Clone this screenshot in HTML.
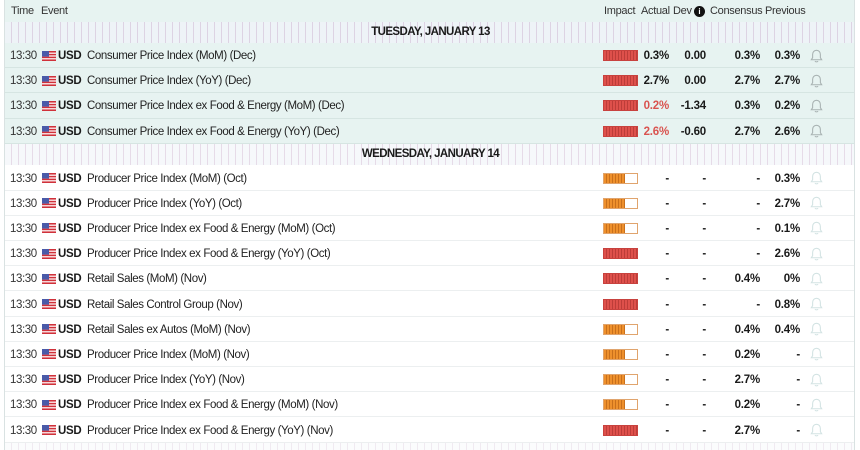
<!DOCTYPE html>
<html><head><meta charset="utf-8">
<style>
*{margin:0;padding:0;box-sizing:border-box}
body{width:860px;height:450px;background:#fff;overflow:hidden;font-family:"Liberation Sans",Arial,sans-serif;font-size:11.5px;color:#222;position:relative}
#c{position:absolute;left:4px;top:0;width:851px;height:450px;border-left:1px solid #d9e2e2;border-right:1px solid #d9e2e2;overflow:hidden}
.r{position:absolute;left:0;width:851px;height:25.2px;line-height:26px;border-bottom:1px solid #e3ebeb;letter-spacing:-0.4px}
.m{background:#e7f3f1;border-bottom-color:#d6e5e2}
.w{background:#fff;border-bottom-color:#eceff0}
.d{position:absolute;left:0;width:851px;background:repeating-linear-gradient(90deg,#eef3f7 0 6px,#ddd3e3 6px 7px);text-align:center;font-weight:bold;font-size:11.5px;letter-spacing:-0.6px;color:#1a1a1a}
.r span{position:absolute;top:0;white-space:nowrap}
.t{left:5px;color:#333}
.f{left:37px;top:7.5px!important;width:14px;height:10px}
.u{left:53px;font-weight:bold;color:#1a1a1a;letter-spacing:-0.3px}
.e{left:82px;color:#222}
.bar{left:598px;top:7px!important;width:35px;height:11px}
.red{background:repeating-linear-gradient(90deg,#de504b 0 2px,#bd3d39 2px 3px);border:1px solid #c8423e}
.org{background:#fff;border:1px solid #e0a46d}
.org i{position:absolute;left:0;top:0;width:21px;height:9px;background:repeating-linear-gradient(90deg,#ee902c 0 2px,#c9701c 2px 3px)}
.a,.v,.cs,.p{font-weight:bold;color:#1a1a1a;text-align:right;letter-spacing:-0.2px}
.a{right:187px}.v{right:150px}.cs{right:96px}.p{right:56px}
.neg{color:#d9534f!important}
.bl{left:805px;top:5.5px!important;width:13px;height:14px}
.h{position:absolute;left:0;top:0;width:851px;height:21.5px;line-height:22px;background:#e7f3f1;color:#333;font-size:11px;letter-spacing:-0.3px}
.h span{position:absolute;top:0;white-space:nowrap}
</style></head><body>
<svg width="0" height="0" style="position:absolute">
<defs>
<symbol id="flag" viewBox="0 0 14 10">
<rect width="14" height="10" fill="#fff"/>
<rect y="0" width="14" height="1.6" fill="#d0313a"/>
<rect y="2.8" width="14" height="1.6" fill="#d0313a"/>
<rect y="5.6" width="14" height="1.6" fill="#d0313a"/>
<rect y="8.4" width="14" height="1.6" fill="#d0313a"/>
<rect width="7" height="5.6" fill="#4a5aa8"/>
</symbol>
<symbol id="bell" viewBox="0 0 12 13">
<path d="M6 1.2c-2.2 0-3.6 1.7-3.6 3.9v3L1.2 10h9.6L9.6 8.1v-3C9.6 2.9 8.2 1.2 6 1.2z" fill="none" stroke="currentColor" stroke-width="1"/>
<path d="M4.6 11.2a1.5 1.2 0 0 0 2.8 0" fill="none" stroke="currentColor" stroke-width="1"/>
</symbol>
</defs></svg>
<div id="c">
<div class="h">
<span style="left:6px">Time</span><span style="left:36px">Event</span>
<span style="left:599px">Impact</span><span style="left:636px">Actual</span><span style="left:668px">Dev</span>
<span style="left:689px;top:6px;width:11px;height:11px;border-radius:50%;background:#111;color:#fff;font-size:8px;line-height:11px;text-align:center;font-weight:bold;letter-spacing:0">i</span>
<span style="left:705px">Consensus</span><span style="left:760px">Previous</span>
</div>
<div class="d" style="top:21.5px;height:21.5px;line-height:21.5px">TUESDAY, JANUARY 13</div>

<div class="r m" style="top:43px"><span class="t">13:30</span><svg class="f" style="position:absolute"><use href="#flag"/></svg><span class="u">USD</span><span class="e">Consumer Price Index (MoM) (Dec)</span><span class="bar red"></span><span class="a">0.3%</span><span class="v">0.00</span><span class="cs">0.3%</span><span class="p">0.3%</span><svg class="bl" style="position:absolute;color:#a9b3b3"><use href="#bell"/></svg></div>
<div class="r m" style="top:68.2px"><span class="t">13:30</span><svg class="f" style="position:absolute"><use href="#flag"/></svg><span class="u">USD</span><span class="e">Consumer Price Index (YoY) (Dec)</span><span class="bar red"></span><span class="a">2.7%</span><span class="v">0.00</span><span class="cs">2.7%</span><span class="p">2.7%</span><svg class="bl" style="position:absolute;color:#a9b3b3"><use href="#bell"/></svg></div>
<div class="r m" style="top:93.4px"><span class="t">13:30</span><svg class="f" style="position:absolute"><use href="#flag"/></svg><span class="u">USD</span><span class="e">Consumer Price Index ex Food &amp; Energy (MoM) (Dec)</span><span class="bar red"></span><span class="a neg">0.2%</span><span class="v">-1.34</span><span class="cs">0.3%</span><span class="p">0.2%</span><svg class="bl" style="position:absolute;color:#a9b3b3"><use href="#bell"/></svg></div>
<div class="r m" style="top:118.6px"><span class="t">13:30</span><svg class="f" style="position:absolute"><use href="#flag"/></svg><span class="u">USD</span><span class="e">Consumer Price Index ex Food &amp; Energy (YoY) (Dec)</span><span class="bar red"></span><span class="a neg">2.6%</span><span class="v">-0.60</span><span class="cs">2.7%</span><span class="p">2.6%</span><svg class="bl" style="position:absolute;color:#a9b3b3"><use href="#bell"/></svg></div>

<div class="d" style="top:143.8px;height:21.7px;line-height:21.7px;background:repeating-linear-gradient(90deg,#f6f8fb 0 6px,#e6dbe8 6px 7px)">WEDNESDAY, JANUARY 14</div>

<div class="r w" style="top:165.5px"><span class="t">13:30</span><svg class="f" style="position:absolute"><use href="#flag"/></svg><span class="u">USD</span><span class="e">Producer Price Index (MoM) (Oct)</span><span class="bar org"><i></i></span><span class="a">-</span><span class="v">-</span><span class="cs">-</span><span class="p">0.3%</span><svg class="bl" style="position:absolute;color:#d3e3e3"><use href="#bell"/></svg></div>
<div class="r w" style="top:190.7px"><span class="t">13:30</span><svg class="f" style="position:absolute"><use href="#flag"/></svg><span class="u">USD</span><span class="e">Producer Price Index (YoY) (Oct)</span><span class="bar org"><i></i></span><span class="a">-</span><span class="v">-</span><span class="cs">-</span><span class="p">2.7%</span><svg class="bl" style="position:absolute;color:#d3e3e3"><use href="#bell"/></svg></div>
<div class="r w" style="top:215.9px"><span class="t">13:30</span><svg class="f" style="position:absolute"><use href="#flag"/></svg><span class="u">USD</span><span class="e">Producer Price Index ex Food &amp; Energy (MoM) (Oct)</span><span class="bar org"><i></i></span><span class="a">-</span><span class="v">-</span><span class="cs">-</span><span class="p">0.1%</span><svg class="bl" style="position:absolute;color:#d3e3e3"><use href="#bell"/></svg></div>
<div class="r w" style="top:241.1px"><span class="t">13:30</span><svg class="f" style="position:absolute"><use href="#flag"/></svg><span class="u">USD</span><span class="e">Producer Price Index ex Food &amp; Energy (YoY) (Oct)</span><span class="bar red"></span><span class="a">-</span><span class="v">-</span><span class="cs">-</span><span class="p">2.6%</span><svg class="bl" style="position:absolute;color:#d3e3e3"><use href="#bell"/></svg></div>
<div class="r w" style="top:266.3px"><span class="t">13:30</span><svg class="f" style="position:absolute"><use href="#flag"/></svg><span class="u">USD</span><span class="e">Retail Sales (MoM) (Nov)</span><span class="bar red"></span><span class="a">-</span><span class="v">-</span><span class="cs">0.4%</span><span class="p">0%</span><svg class="bl" style="position:absolute;color:#d3e3e3"><use href="#bell"/></svg></div>
<div class="r w" style="top:291.5px"><span class="t">13:30</span><svg class="f" style="position:absolute"><use href="#flag"/></svg><span class="u">USD</span><span class="e">Retail Sales Control Group (Nov)</span><span class="bar red"></span><span class="a">-</span><span class="v">-</span><span class="cs">-</span><span class="p">0.8%</span><svg class="bl" style="position:absolute;color:#d3e3e3"><use href="#bell"/></svg></div>
<div class="r w" style="top:316.7px"><span class="t">13:30</span><svg class="f" style="position:absolute"><use href="#flag"/></svg><span class="u">USD</span><span class="e">Retail Sales ex Autos (MoM) (Nov)</span><span class="bar org"><i></i></span><span class="a">-</span><span class="v">-</span><span class="cs">0.4%</span><span class="p">0.4%</span><svg class="bl" style="position:absolute;color:#d3e3e3"><use href="#bell"/></svg></div>
<div class="r w" style="top:341.9px"><span class="t">13:30</span><svg class="f" style="position:absolute"><use href="#flag"/></svg><span class="u">USD</span><span class="e">Producer Price Index (MoM) (Nov)</span><span class="bar org"><i></i></span><span class="a">-</span><span class="v">-</span><span class="cs">0.2%</span><span class="p">-</span><svg class="bl" style="position:absolute;color:#d3e3e3"><use href="#bell"/></svg></div>
<div class="r w" style="top:367.1px"><span class="t">13:30</span><svg class="f" style="position:absolute"><use href="#flag"/></svg><span class="u">USD</span><span class="e">Producer Price Index (YoY) (Nov)</span><span class="bar org"><i></i></span><span class="a">-</span><span class="v">-</span><span class="cs">2.7%</span><span class="p">-</span><svg class="bl" style="position:absolute;color:#d3e3e3"><use href="#bell"/></svg></div>
<div class="r w" style="top:392.3px"><span class="t">13:30</span><svg class="f" style="position:absolute"><use href="#flag"/></svg><span class="u">USD</span><span class="e">Producer Price Index ex Food &amp; Energy (MoM) (Nov)</span><span class="bar org"><i></i></span><span class="a">-</span><span class="v">-</span><span class="cs">0.2%</span><span class="p">-</span><svg class="bl" style="position:absolute;color:#d3e3e3"><use href="#bell"/></svg></div>
<div class="r w" style="top:417.5px"><span class="t">13:30</span><svg class="f" style="position:absolute"><use href="#flag"/></svg><span class="u">USD</span><span class="e">Producer Price Index ex Food &amp; Energy (YoY) (Nov)</span><span class="bar red"></span><span class="a">-</span><span class="v">-</span><span class="cs">2.7%</span><span class="p">-</span><svg class="bl" style="position:absolute;color:#d3e3e3"><use href="#bell"/></svg></div>

<div class="d" style="top:442.7px;height:10px;background:repeating-linear-gradient(90deg,#fbfcfd 0 6px,#f0eaf1 6px 7px)"></div>
</div>
</body></html>
